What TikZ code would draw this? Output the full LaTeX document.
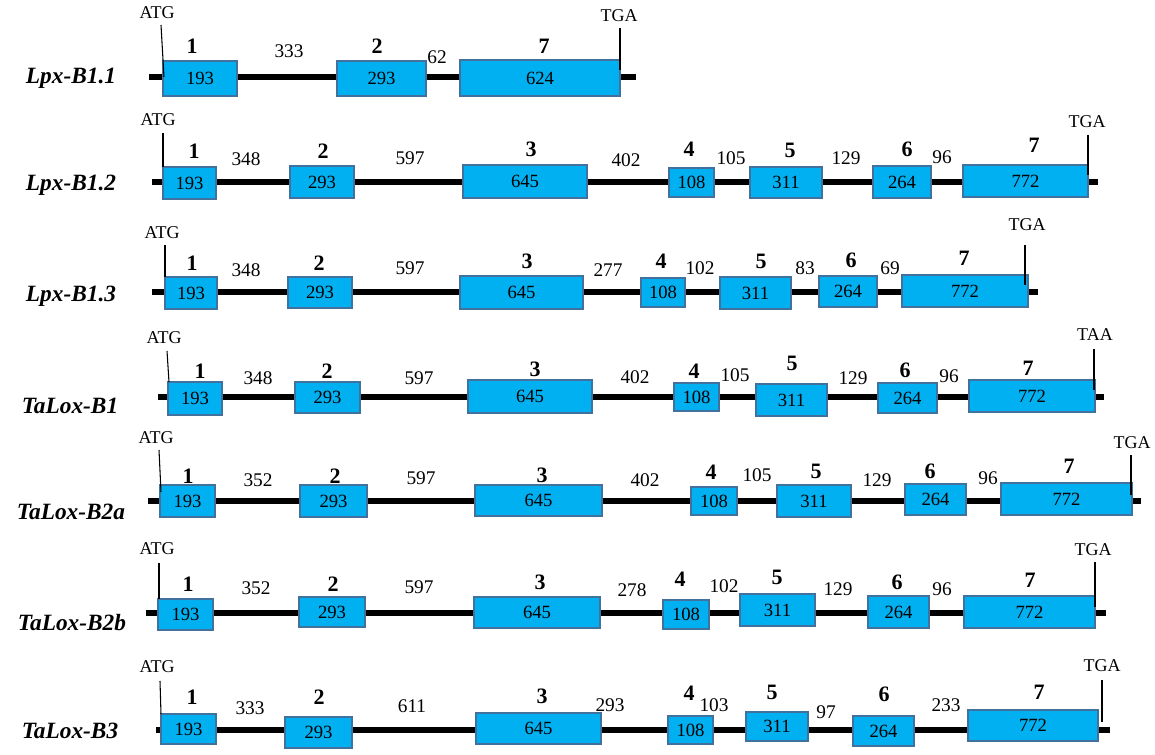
\documentclass[tikz,border=0pt]{standalone}
\usepackage{fontspec}
\setmainfont{Liberation Serif}
\definecolor{exonfill}{RGB}{0,176,240}
\definecolor{exonedge}{RGB}{65,113,156}
\tikzset{
  exon/.style={draw=exonedge, fill=exonfill, line width=1.5pt, inner sep=0pt,
               font=\fontsize{14}{14}\selectfont},
  exnum/.style={font=\bfseries\fontsize{16.5}{16.5}\selectfont, inner sep=0pt},
  intr/.style={font=\fontsize{14.5}{14.5}\selectfont, inner sep=0pt},
  site/.style={font=\fontsize{13.5}{13.5}\selectfont, inner sep=0pt},
  gname/.style={font=\bfseries\itshape\fontsize{17.5}{17.5}\selectfont, inner sep=0pt},
  backbone/.style={line width=4.5pt},
  sitetick/.style={line width=0.8pt},
}
% exon box: name, x1, x2, y1, y2, length
\newcommand\ex[6]{\node[exon, minimum width={(#3-#2)*0.75pt}, minimum height={(#5-#4)*0.75pt}]
  (#1) at ({(#2+#3)/2},{(#4+#5)/2}) {#6};}
\begin{document}
\begin{tikzpicture}[x=0.75pt, y=-0.75pt]
\useasboundingbox[fill=white] (0,0) rectangle (1155,755);

% ---------------- Lpx-B1.1 ----------------
\node[gname] (g1) at (71,78) {Lpx-B1.1};
\coordinate (r1s) at (149,77); \coordinate (r1t) at (636,77);
\draw[backbone] (r1s) -- (r1t);
\ex{r1e1}{163}{237}{61}{96}{193}
\ex{r1e2}{337}{426}{61}{96}{293}
\ex{r1e7}{460}{620}{60}{96}{624}
\node[exnum] (r1n1) at (192,46) {1};
\node[exnum] (r1n2) at (377,46) {2};
\node[exnum] (r1n7) at (544,46) {7};
\node[intr] (r1i1) at (289,51) {333};
\node[intr] (r1i2) at (437,57) {62};
\node[site] (r1atg) at (157,13) {ATG};
\node[site] (r1stop) at (619,16) {TGA};
\coordinate (r1a1) at (161,25); \coordinate (r1a2) at (164,77);
\coordinate (r1b1) at (620,28); \coordinate (r1b2) at (620,70);
\draw[sitetick] (r1a1) -- (r1a2);
\draw[sitetick] (r1b1) -- (r1b2);

% ---------------- Lpx-B1.2 ----------------
\node[gname] (g2) at (71,185) {Lpx-B1.2};
\coordinate (r2s) at (152,182); \coordinate (r2t) at (1098,182);
\draw[backbone] (r2s) -- (r2t);
\ex{r2e1}{163}{216}{167}{199}{193}
\ex{r2e2}{290}{354}{166}{198}{293}
\ex{r2e3}{463}{587}{165}{198}{645}
\ex{r2e4}{669}{714}{168}{197}{108}
\ex{r2e5}{750}{822}{167}{198}{311}
\ex{r2e6}{873}{931}{166}{198}{264}
\ex{r2e7}{963}{1088}{165}{197}{772}
\node[exnum] (r2n1) at (194,151) {1};
\node[exnum] (r2n2) at (323,151) {2};
\node[exnum] (r2n3) at (531,149) {3};
\node[exnum] (r2n4) at (689,149) {4};
\node[exnum] (r2n5) at (790,150) {5};
\node[exnum] (r2n6) at (907,149) {6};
\node[exnum] (r2n7) at (1034,145) {7};
\node[intr] (r2i1) at (246,159) {348};
\node[intr] (r2i2) at (410,158) {597};
\node[intr] (r2i3) at (626,160) {402};
\node[intr] (r2i4) at (731,158) {105};
\node[intr] (r2i5) at (846,158) {129};
\node[intr] (r2i6) at (942,157) {96};
\node[site] (r2atg) at (158,120) {ATG};
\node[site] (r2stop) at (1087,122) {TGA};
\coordinate (r2a1) at (163,133); \coordinate (r2a2) at (163,167);
\coordinate (r2b1) at (1088,135); \coordinate (r2b2) at (1088,175);
\draw[sitetick] (r2a1) -- (r2a2);
\draw[sitetick] (r2b1) -- (r2b2);

% ---------------- Lpx-B1.3 ----------------
\node[gname] (g3) at (71,296) {Lpx-B1.3};
\coordinate (r3s) at (152,292); \coordinate (r3t) at (1038,292);
\draw[backbone] (r3s) -- (r3t);
\ex{r3e1}{165}{217}{277}{309}{193}
\ex{r3e2}{288}{352}{277}{308}{293}
\ex{r3e3}{460}{583}{276}{309}{645}
\ex{r3e4}{641}{685}{278}{307}{108}
\ex{r3e5}{720}{791}{277}{309}{311}
\ex{r3e6}{819}{877}{276}{307}{264}
\ex{r3e7}{902}{1028}{275}{307}{772}
\node[exnum] (r3n1) at (192,263) {1};
\node[exnum] (r3n2) at (319,263) {2};
\node[exnum] (r3n3) at (527,261) {3};
\node[exnum] (r3n4) at (661,261) {4};
\node[exnum] (r3n5) at (761,261) {5};
\node[exnum] (r3n6) at (851,260) {6};
\node[exnum] (r3n7) at (964,258) {7};
\node[intr] (r3i1) at (246,270) {348};
\node[intr] (r3i2) at (410,268) {597};
\node[intr] (r3i3) at (608,270) {277};
\node[intr] (r3i4) at (700,268) {102};
\node[intr] (r3i5) at (805,268) {83};
\node[intr] (r3i6) at (890,268) {69};
\node[site] (r3atg) at (162,233) {ATG};
\node[site] (r3stop) at (1027,225) {TGA};
\coordinate (r3a1) at (165,245); \coordinate (r3a2) at (165,277);
\coordinate (r3b1) at (1025,245); \coordinate (r3b2) at (1025,285);
\draw[sitetick] (r3a1) -- (r3a2);
\draw[sitetick] (r3b1) -- (r3b2);

% ---------------- TaLox-B1 ----------------
\node[gname] (g4) at (70,406) {TaLox-B1};
\coordinate (r4s) at (158,397); \coordinate (r4t) at (1104,397);
\draw[backbone] (r4s) -- (r4t);
\ex{r4e1}{168}{222}{382}{415}{193}
\ex{r4e2}{295}{360}{382}{413}{293}
\ex{r4e3}{468}{592}{380}{413}{645}
\ex{r4e4}{674}{719}{383}{411}{108}
\ex{r4e5}{756}{827}{384}{416}{311}
\ex{r4e6}{878}{937}{383}{413}{264}
\ex{r4e7}{969}{1095}{380}{412}{772}
\node[exnum] (r4n1) at (200,371) {1};
\node[exnum] (r4n2) at (327,371) {2};
\node[exnum] (r4n3) at (535,369) {3};
\node[exnum] (r4n4) at (694,371) {4};
\node[exnum] (r4n5) at (792,363) {5};
\node[exnum] (r4n6) at (905,370) {6};
\node[exnum] (r4n7) at (1028,368) {7};
\node[intr] (r4i1) at (258,378) {348};
\node[intr] (r4i2) at (419,378) {597};
\node[intr] (r4i3) at (635,377) {402};
\node[intr] (r4i4) at (735,375) {105};
\node[intr] (r4i5) at (853,378) {129};
\node[intr] (r4i6) at (949,376) {96};
\node[site] (r4atg) at (164,338) {ATG};
\node[site] (r4stop) at (1095,335) {TAA};
\coordinate (r4a1) at (167,351); \coordinate (r4a2) at (169,382);
\coordinate (r4b1) at (1094,349); \coordinate (r4b2) at (1094,390);
\draw[sitetick] (r4a1) -- (r4a2);
\draw[sitetick] (r4b1) -- (r4b2);

% ---------------- TaLox-B2a ----------------
\node[gname] (g5) at (71,512) {TaLox-B2a};
\coordinate (r5s) at (148,501); \coordinate (r5t) at (1141,501);
\draw[backbone] (r5s) -- (r5t);
\ex{r5e1}{160}{215}{485}{517}{193}
\ex{r5e2}{300}{367}{485}{517}{293}
\ex{r5e3}{475}{602}{485}{516}{645}
\ex{r5e4}{691}{737}{487}{515}{108}
\ex{r5e5}{777}{851}{485}{517}{311}
\ex{r5e6}{905}{966}{484}{515}{264}
\ex{r5e7}{1001}{1132}{483}{515}{772}
\node[exnum] (r5n1) at (188,476) {1};
\node[exnum] (r5n2) at (335,476) {2};
\node[exnum] (r5n3) at (542,475) {3};
\node[exnum] (r5n4) at (711,472) {4};
\node[exnum] (r5n5) at (816,471) {5};
\node[exnum] (r5n6) at (930,471) {6};
\node[exnum] (r5n7) at (1069,466) {7};
\node[intr] (r5i1) at (258,480) {352};
\node[intr] (r5i2) at (421,478) {597};
\node[intr] (r5i3) at (645,480) {402};
\node[intr] (r5i4) at (757,475) {105};
\node[intr] (r5i5) at (877,480) {129};
\node[intr] (r5i6) at (988,478) {96};
\node[site] (r5atg) at (156,438) {ATG};
\node[site] (r5stop) at (1132,443) {TGA};
\coordinate (r5a1) at (159,450); \coordinate (r5a2) at (161,492);
\coordinate (r5b1) at (1131,455); \coordinate (r5b2) at (1131,495);
\draw[sitetick] (r5a1) -- (r5a2);
\draw[sitetick] (r5b1) -- (r5b2);

% ---------------- TaLox-B2b ----------------
\node[gname] (g6) at (72,623) {TaLox-B2b};
\coordinate (r6s) at (146,613); \coordinate (r6t) at (1106,613);
\draw[backbone] (r6s) -- (r6t);
\ex{r6e1}{158}{213}{599}{630}{193}
\ex{r6e2}{299}{365}{597}{627}{293}
\ex{r6e3}{474}{600}{597}{628}{645}
\ex{r6e4}{663}{709}{600}{629}{108}
\ex{r6e5}{740}{815}{594}{626}{311}
\ex{r6e6}{868}{929}{596}{628}{264}
\ex{r6e7}{964}{1095}{596}{628}{772}
\node[exnum] (r6n1) at (188,584) {1};
\node[exnum] (r6n2) at (333,584) {2};
\node[exnum] (r6n3) at (540,582) {3};
\node[exnum] (r6n4) at (680,579) {4};
\node[exnum] (r6n5) at (777,577) {5};
\node[exnum] (r6n6) at (897,582) {6};
\node[exnum] (r6n7) at (1030,580) {7};
\node[intr] (r6i1) at (256,588) {352};
\node[intr] (r6i2) at (419,587) {597};
\node[intr] (r6i3) at (632,590) {278};
\node[intr] (r6i4) at (724,586) {102};
\node[intr] (r6i5) at (838,589) {129};
\node[intr] (r6i6) at (942,589) {96};
\node[site] (r6atg) at (157,549) {ATG};
\node[site] (r6stop) at (1093,550) {TGA};
\coordinate (r6a1) at (159,563); \coordinate (r6a2) at (159,599);
\coordinate (r6b1) at (1095,562); \coordinate (r6b2) at (1095,607);
\draw[sitetick] (r6a1) -- (r6a2);
\draw[sitetick] (r6b1) -- (r6b2);

% ---------------- TaLox-B3 ----------------
\node[gname] (g7) at (70,731) {TaLox-B3};
\coordinate (r7s) at (156,730); \coordinate (r7t) at (1110,730);
\draw[backbone] (r7s) -- (r7t);
\ex{r7e1}{161}{216}{714}{744}{193}
\ex{r7e2}{285}{352}{717}{748}{293}
\ex{r7e3}{476}{601}{713}{744}{645}
\ex{r7e4}{668}{713}{716}{744}{108}
\ex{r7e5}{746}{808}{712}{741}{311}
\ex{r7e6}{853}{914}{716}{746}{264}
\ex{r7e7}{968}{1098}{710}{741}{772}
\node[exnum] (r7n1) at (192,697) {1};
\node[exnum] (r7n2) at (319,697) {2};
\node[exnum] (r7n3) at (542,696) {3};
\node[exnum] (r7n4) at (689,693) {4};
\node[exnum] (r7n5) at (772,692) {5};
\node[exnum] (r7n6) at (884,694) {6};
\node[exnum] (r7n7) at (1039,692) {7};
\node[intr] (r7i1) at (250,708) {333};
\node[intr] (r7i2) at (412,706) {611};
\node[intr] (r7i3) at (610,705) {293};
\node[intr] (r7i4) at (714,705) {103};
\node[intr] (r7i5) at (826,712) {97};
\node[intr] (r7i6) at (946,705) {233};
\node[site] (r7atg) at (157,667) {ATG};
\node[site] (r7stop) at (1102,666) {TGA};
\coordinate (r7a1) at (160,681); \coordinate (r7a2) at (161,714);
\coordinate (r7b1) at (1102,680); \coordinate (r7b2) at (1102,722);
\draw[sitetick] (r7a1) -- (r7a2);
\draw[sitetick] (r7b1) -- (r7b2);
\end{tikzpicture}
\end{document}
